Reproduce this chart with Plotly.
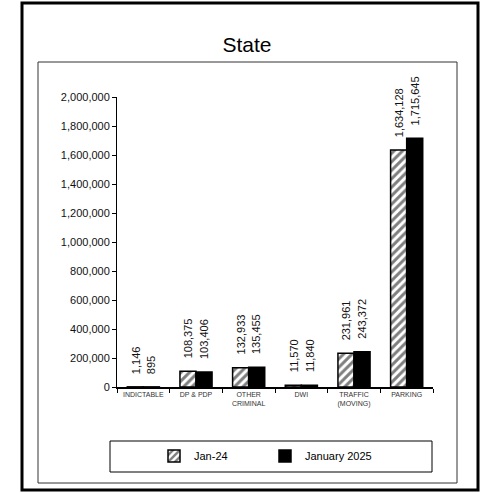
import plotly.graph_objects as go

categories = ["INDICTABLE", "DP & PDP", "OTHER<br>CRIMINAL", "DWI", "TRAFFIC<br>(MOVING)", "PARKING"]
jan_24 = [1146, 108375, 132933, 11570, 231961, 1634128]
jan_25 = [895, 103406, 135455, 11840, 243372, 1715645]
series_names = ["Jan-24", "January 2025"]

W, H = 483, 493
# plot area in pixels
L, R, T, B = 117, 433, 97, 387


def px(x):
    return (x - L) / (R - L)


def py(y):
    return (B - y) / (B - T)


FONT = "Liberation Sans, Arial, sans-serif"

fig = go.Figure()
fig.add_trace(go.Bar(
    x=categories, y=jan_24, name=series_names[0],
    marker=dict(color="white", line=dict(color="black", width=1.5),
                pattern=dict(shape="/", fgcolor="black", bgcolor="white", size=6, solidity=0.5)),
))
fig.add_trace(go.Bar(
    x=categories, y=jan_25, name=series_names[1],
    marker=dict(color="black", line=dict(color="black", width=1.5)),
))

# rotated value labels above each bar
for vals, shift in ((jan_24, -8), (jan_25, 8)):
    for c, v in zip(categories, vals):
        fig.add_annotation(x=c, y=v, text=f"{v:,}", textangle=-90, showarrow=False,
                           xanchor="center", yanchor="bottom", xshift=shift, yshift=11,
                           font=dict(family=FONT, size=11, color="#111"))

# outer frame, chart frame, legend box
fig.add_shape(type="rect", xref="paper", yref="paper", x0=px(22), x1=px(478), y0=py(490), y1=py(3),
              line=dict(color="black", width=3))
fig.add_shape(type="rect", xref="paper", yref="paper", x0=px(38), x1=px(457), y0=py(483), y1=py(62),
              line=dict(color="#333", width=1))
fig.add_shape(type="rect", xref="paper", yref="paper", x0=px(110), x1=px(432), y0=py(472), y1=py(441),
              line=dict(color="black", width=1))

fig.update_layout(
    width=W, height=H,
    margin=dict(l=L, r=W - R, t=T, b=H - B),
    paper_bgcolor="white", plot_bgcolor="white",
    title=dict(text="State", x=247 / W, xanchor="center", y=1 - 45 / H, yanchor="middle",
               font=dict(family=FONT, size=21, color="black")),
    barmode="group", bargap=0.39, bargroupgap=0,
    font=dict(family=FONT, color="#111"),
    showlegend=True,
    legend=dict(orientation="h", x=px(154), xanchor="left", y=py(456), yanchor="middle",
                font=dict(family=FONT, size=11, color="black"),
                entrywidth=66, entrywidthmode="pixels", itemwidth=30,
                bgcolor="rgba(0,0,0,0)"),
)
fig.update_yaxes(range=[0, 2000000], dtick=200000, tickformat=",", showgrid=False, zeroline=False,
                 showline=True, linecolor="black", linewidth=1, ticks="outside", ticklen=4,
                 tickcolor="black", tickfont=dict(family=FONT, size=11, color="#111"))
fig.update_xaxes(showline=True, linecolor="black", linewidth=1.5, ticks="outside", ticklen=4,
                 tickson="boundaries", tickcolor="black", showgrid=False,
                 tickfont=dict(family=FONT, size=7, color="#333"))

# drop the browser's default page margin so the figure sits at the window origin
fig.write_html("out.html", config={"displayModeBar": False},
               post_script="document.body.style.margin='0';")
